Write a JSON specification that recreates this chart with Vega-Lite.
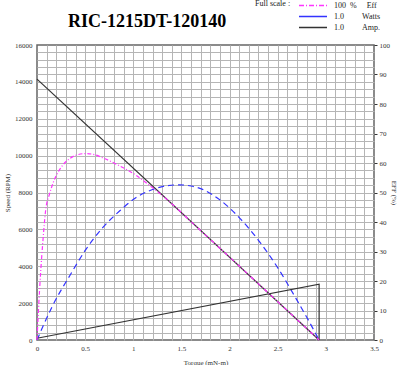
{
  "$schema": "https://vega.github.io/schema/vega-lite/v6.json",
  "width": 337,
  "height": 295,
  "autosize": {"type": "none"},
  "padding": {"left": 37, "top": 45, "right": 26, "bottom": 25},
  "background": "white",
  "title": {"text": "RIC-1215DT-120140", "anchor": "start", "frame": "group", "dx": 31, "offset": 21, "dy": 66, "baseline": "alphabetic", "font": "Liberation Serif", "fontSize": 18, "fontWeight": "bold", "color": "#000"},
  "datasets": {
    "speed": [{"T": 0, "rpm": 14150}, {"T": 2.93, "rpm": 0}],
    "series": [
      {"s": "Eff", "T": 0, "v": 0, "i": 0},
      {"s": "Eff", "T": 0.015, "v": 10, "i": 1},
      {"s": "Eff", "T": 0.04, "v": 24, "i": 2},
      {"s": "Eff", "T": 0.06, "v": 33, "i": 3},
      {"s": "Eff", "T": 0.09, "v": 44, "i": 4},
      {"s": "Eff", "T": 0.13, "v": 49.5, "i": 5},
      {"s": "Eff", "T": 0.17, "v": 53.5, "i": 6},
      {"s": "Eff", "T": 0.25, "v": 58.5, "i": 7},
      {"s": "Eff", "T": 0.34, "v": 61.5, "i": 8},
      {"s": "Eff", "T": 0.42, "v": 62.8, "i": 9},
      {"s": "Eff", "T": 0.51, "v": 63.2, "i": 10},
      {"s": "Eff", "T": 0.6, "v": 62.8, "i": 11},
      {"s": "Eff", "T": 0.68, "v": 61.8, "i": 12},
      {"s": "Eff", "T": 0.86, "v": 59, "i": 13},
      {"s": "Eff", "T": 1.03, "v": 55.8, "i": 14},
      {"s": "Eff", "T": 1.13, "v": 53.4, "i": 15},
      {"s": "Eff", "T": 1.3, "v": 49, "i": 16},
      {"s": "Eff", "T": 1.45, "v": 44.7, "i": 17},
      {"s": "Eff", "T": 1.6, "v": 40.1, "i": 18},
      {"s": "Eff", "T": 2.0, "v": 28.1, "i": 19},
      {"s": "Eff", "T": 2.5, "v": 13.0, "i": 20},
      {"s": "Eff", "T": 2.93, "v": 0, "i": 21},
      {"s": "Watts", "T": 0, "v": 0, "i": 0},
      {"s": "Watts", "T": 0.06, "v": 4.5, "i": 1},
      {"s": "Watts", "T": 0.16, "v": 11.5, "i": 2},
      {"s": "Watts", "T": 0.34, "v": 21.8, "i": 3},
      {"s": "Watts", "T": 0.51, "v": 30.8, "i": 4},
      {"s": "Watts", "T": 0.68, "v": 38, "i": 5},
      {"s": "Watts", "T": 0.86, "v": 43.8, "i": 6},
      {"s": "Watts", "T": 1.03, "v": 48.3, "i": 7},
      {"s": "Watts", "T": 1.2, "v": 51, "i": 8},
      {"s": "Watts", "T": 1.35, "v": 52.3, "i": 9},
      {"s": "Watts", "T": 1.48, "v": 52.6, "i": 10},
      {"s": "Watts", "T": 1.6, "v": 52.2, "i": 11},
      {"s": "Watts", "T": 1.7, "v": 51.3, "i": 12},
      {"s": "Watts", "T": 1.9, "v": 47.5, "i": 13},
      {"s": "Watts", "T": 2.1, "v": 41.5, "i": 14},
      {"s": "Watts", "T": 2.3, "v": 33.8, "i": 15},
      {"s": "Watts", "T": 2.5, "v": 24.5, "i": 16},
      {"s": "Watts", "T": 2.7, "v": 13.5, "i": 17},
      {"s": "Watts", "T": 2.8, "v": 7.8, "i": 18},
      {"s": "Watts", "T": 2.93, "v": 0, "i": 19},
      {"s": "Amp.", "T": 0, "v": 0.6, "i": 0},
      {"s": "Amp.", "T": 2.93, "v": 18.9, "i": 1},
      {"s": "Amp.", "T": 2.93, "v": 0, "i": 2}
    ]
  },
  "config": {
    "view": {"stroke": "#666", "strokeWidth": 1.5},
    "axis": {"labelFont": "Liberation Serif", "labelFontSize": 7, "labelColor": "#333", "titleFont": "Liberation Serif", "titleFontSize": 7, "titleFontWeight": "normal", "titleColor": "#333", "domain": false, "gridColor": "#b5b5b5", "gridWidth": 1, "gridOpacity": 1, "labelFlush": false, "labelOverlap": false}
  },
  "layer": [
    {
      "data": {"name": "speed"},
      "mark": {"type": "line", "opacity": 0},
      "encoding": {
        "x": {"field": "T", "type": "quantitative", "scale": {"domain": [0, 3.5], "nice": false, "zero": false},
          "axis": {"orient": "bottom", "grid": true, "labels": false, "ticks": false, "title": null,
            "values": [0.1,0.2,0.3,0.4,0.5,0.6,0.7,0.8,0.9,1,1.1,1.2,1.3,1.4,1.5,1.6,1.7,1.8,1.9,2,2.1,2.2,2.3,2.4,2.5,2.6,2.7,2.8,2.9,3,3.1,3.2,3.3,3.4]}},
        "y": {"field": "rpm", "type": "quantitative", "scale": {"domain": [0, 16000], "nice": false},
          "axis": {"orient": "left", "grid": true, "labels": false, "ticks": false, "title": null,
            "values": [400,800,1200,1600,2000,2400,2800,3200,3600,4000,4400,4800,5200,5600,6000,6400,6800,7200,7600,8000,8400,8800,9200,9600,10000,10400,10800,11200,11600,12000,12400,12800,13200,13600,14000,14400,14800,15200,15600]}}
      }
    },
    {
      "data": {"name": "speed"},
      "mark": {"type": "line", "color": "#333333", "strokeWidth": 1.2},
      "encoding": {
        "x": {"field": "T", "type": "quantitative", "scale": {"domain": [0, 3.5], "nice": false, "zero": false},
          "axis": {"orient": "bottom", "grid": false, "ticks": false, "labelPadding": 4, "format": "~g", "title": "Torque (mN-m)", "titleY": 22, "titleBaseline": "middle",
            "values": [0, 0.5, 1, 1.5, 2, 2.5, 3, 3.5]}},
        "y": {"field": "rpm", "type": "quantitative", "scale": {"domain": [0, 16000], "nice": false},
          "axis": {"orient": "left", "grid": false, "ticks": false, "labelPadding": 5, "format": "d", "title": "Speed (RPM)", "titleX": -30, "titleY": 147.5, "titleBaseline": "middle",
            "values": [0, 2000, 4000, 6000, 8000, 10000, 12000, 14000, 16000]}}
      }
    },
    {
      "data": {"name": "series"},
      "encoding": {
        "x": {"field": "T", "type": "quantitative", "scale": {"domain": [0, 3.5], "nice": false, "zero": false}, "axis": null},
        "y": {"field": "v", "type": "quantitative", "scale": {"domain": [0, 100], "nice": false},
          "axis": {"orient": "right", "grid": false, "ticks": true, "tickSize": 3, "tickColor": "#333", "labelPadding": 2, "format": "d", "title": "EFF (%)", "titleX": 19, "titleY": 147.5, "titleAngle": 90, "titleBaseline": "middle",
            "values": [0, 10, 20, 30, 40, 50, 60, 70, 80, 90, 100]}},
        "color": {"field": "s", "type": "nominal",
          "scale": {"domain": ["Eff", "Watts", "Amp."], "range": ["#ff33ff", "#3333ff", "#333333"]},
          "legend": {"title": "Full scale :", "titleOrient": "left", "titleAnchor": "start", "orient": "none", "legendX": 218, "legendY": -45,
            "symbolType": "stroke", "symbolSize": 784, "symbolStrokeWidth": 1.5, "clipHeight": 11,
            "labelFont": "Liberation Serif", "labelFontSize": 8, "labelColor": "#222",
            "titleFont": "Liberation Serif", "titleFontSize": 8, "titleFontWeight": "normal", "titleColor": "#222", "titlePadding": 7,
            "labelOffset": 6, "padding": 0, "rowPadding": 0,
            "labelExpr": "datum.value === 'Eff' ? '100\u00a0\u00a0%\u00a0\u00a0\u00a0\u00a0\u00a0Eff' : datum.value === 'Watts' ? '\u00a0\u00a0\u00a01.0\u00a0\u00a0\u00a0\u00a0\u00a0\u00a0\u00a0\u00a0\u00a0Watts' : '\u00a0\u00a0\u00a01.0\u00a0\u00a0\u00a0\u00a0\u00a0\u00a0\u00a0\u00a0\u00a0Amp.'",
            "encode": {"symbols": {"update": {"strokeDash": {"signal": "datum.value === 'Eff' ? [5, 2, 1, 2] : [1, 0]"}}}}}},
        "order": {"field": "i", "type": "quantitative"}
      },
      "layer": [
        {"transform": [{"filter": "datum.s === 'Watts'"}], "mark": {"type": "line", "strokeWidth": 1.2, "strokeDash": [6, 4], "interpolate": "monotone"}},
        {"transform": [{"filter": "datum.s === 'Amp.'"}], "mark": {"type": "line", "strokeWidth": 1.2}},
        {"transform": [{"filter": "datum.s === 'Eff'"}], "mark": {"type": "line", "strokeWidth": 1.2, "strokeDash": [4, 2, 1, 2], "interpolate": "monotone"}}
      ]
    }
  ],
  "resolve": {"scale": {"y": "independent"}, "axis": {"x": "independent", "y": "independent"}}
}
